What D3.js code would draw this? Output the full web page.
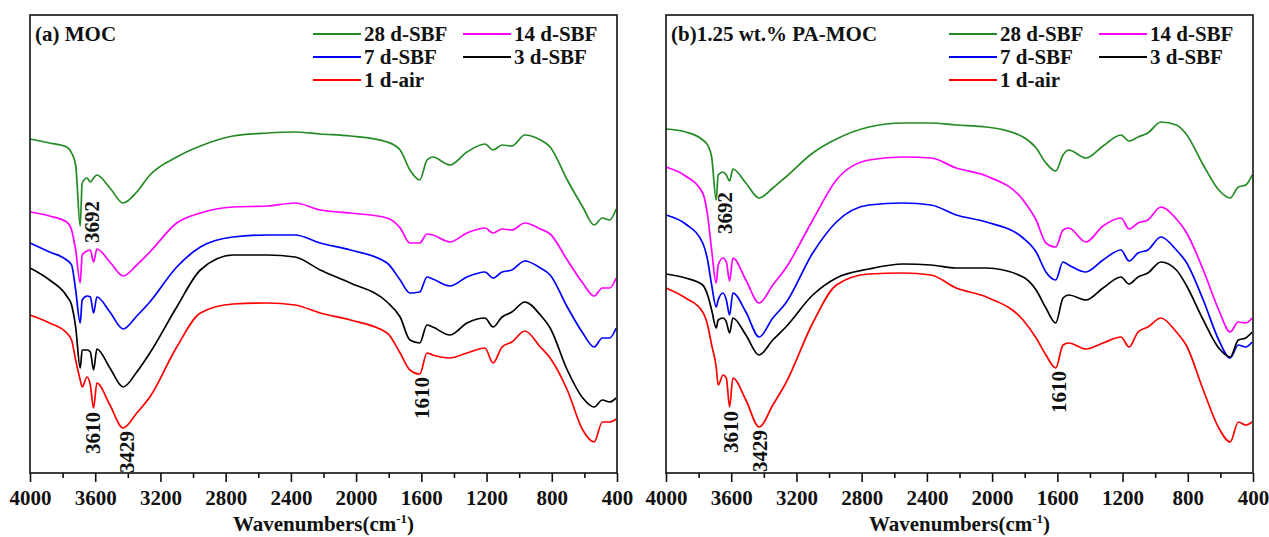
<!DOCTYPE html>
<html>
<head>
<meta charset="utf-8">
<script src="https://cdn.jsdelivr.net/npm/d3@7"></script>
<style>
  body{margin:0;background:#fff;}
  svg text{font-family:"Liberation Serif","Times New Roman",serif;font-weight:bold;fill:#111;}
</style>
</head>
<body>
<div id="chart"></div>
<script>
// wavenumber grid (cm-1) shared by all the traces
const wavenumbers = [4000, 3880, 3775, 3745, 3720, 3692, 3680, 3650, 3630, 3610, 3590, 3510, 3429, 3345, 3265, 3100, 2955, 2755, 2545, 2375, 2220, 2035, 1810, 1730, 1670, 1610, 1565, 1530, 1425, 1320, 1210, 1160, 1105, 1045, 965, 870, 810, 705, 610, 540, 490, 445, 405]

const seriesNames = ['28 d-SBF', '14 d-SBF', '7 d-SBF', '3 d-SBF', '1 d-air']
const seriesColors = ['#238b23', '#ff00ff', '#0000ff', '#000000', '#ff0000']
const panelTitles = ['(a) MOC', '(b)1.25 wt.% PA-MOC']

// (a) MOC, transmittance in a.u. (stacked offsets as drawn)
const moc28 = [33.4, 33.0, 32.6, 32.0, 30.8, 24.7, 29.0, 29.5, 29.1, 29.5, 29.8, 28.5, 27.0, 28.1, 29.8, 31.6, 32.7, 33.7, 34.0, 34.1, 33.9, 33.7, 33.1, 32.3, 30.3, 29.3, 31.3, 31.6, 30.8, 32.1, 32.9, 32.3, 32.8, 32.7, 33.8, 33.3, 32.6, 29.3, 26.6, 24.8, 25.5, 25.3, 26.4]
const moc14 = [26.1, 25.7, 25.1, 24.3, 22.3, 19.0, 21.8, 22.2, 22.3, 21.1, 22.4, 21.1, 19.7, 20.8, 22.1, 25.0, 26.0, 26.6, 26.7, 27.0, 26.3, 26.0, 25.5, 24.5, 23.0, 23.0, 23.9, 23.8, 23.1, 24.0, 24.5, 24.0, 24.4, 24.3, 25.0, 24.4, 23.9, 21.3, 19.0, 17.7, 18.5, 18.5, 19.5]
const moc7 = [23.0, 22.1, 21.3, 20.8, 18.3, 15.0, 17.3, 17.7, 17.6, 16.0, 17.6, 16.1, 14.4, 15.7, 17.1, 20.6, 22.6, 23.6, 23.8, 23.8, 23.0, 22.3, 21.0, 19.3, 18.0, 18.1, 19.6, 19.4, 18.7, 19.6, 20.1, 19.5, 20.1, 20.3, 21.2, 20.5, 19.8, 16.6, 14.0, 12.6, 13.5, 13.5, 14.5]
const moc3 = [20.5, 19.3, 17.7, 16.8, 14.6, 10.5, 12.3, 12.3, 12.1, 10.3, 12.4, 10.5, 8.6, 10.1, 12.0, 16.6, 20.3, 21.8, 21.8, 21.6, 20.3, 19.0, 17.1, 15.6, 13.3, 13.0, 14.8, 14.6, 13.8, 15.0, 15.5, 14.6, 15.6, 16.1, 17.1, 15.8, 14.5, 10.3, 7.5, 6.6, 7.3, 7.1, 7.5]
const moc1 = [15.8, 15.0, 14.0, 13.3, 11.3, 9.3, 8.6, 9.6, 8.8, 6.5, 9.0, 6.8, 4.5, 6.0, 7.6, 12.6, 16.0, 16.9, 17.0, 16.8, 16.0, 15.3, 14.0, 12.0, 10.3, 9.9, 12.0, 11.8, 11.5, 12.0, 12.5, 11.0, 12.6, 13.1, 14.2, 12.6, 11.5, 8.3, 4.3, 3.1, 5.1, 5.1, 5.4]

// (b) 1.25 wt.% PA-MOC
const pa28 = [34.4, 34.1, 33.3, 32.8, 31.6, 27.3, 29.8, 30.1, 29.8, 29.2, 30.4, 29.0, 27.5, 28.5, 29.6, 32.0, 33.4, 34.6, 35.0, 35.0, 34.8, 34.6, 33.6, 32.5, 31.0, 30.2, 31.8, 32.3, 31.5, 32.7, 33.8, 33.2, 33.6, 34.0, 35.1, 34.8, 33.9, 30.8, 28.3, 27.5, 28.6, 28.8, 29.8]
const pa14 = [30.6, 29.7, 28.0, 25.8, 22.3, 19.0, 20.8, 21.5, 21.1, 19.2, 21.5, 19.3, 17.0, 18.8, 20.5, 25.3, 29.3, 31.3, 31.6, 31.5, 30.5, 29.7, 27.3, 25.3, 23.0, 22.6, 24.3, 24.5, 23.1, 24.7, 25.5, 24.4, 25.0, 25.3, 26.6, 25.4, 24.1, 20.3, 16.3, 14.1, 15.1, 15.0, 15.5]
const pa7 = [25.8, 24.9, 23.0, 21.3, 18.8, 16.6, 17.3, 18.0, 17.3, 15.8, 18.0, 16.1, 13.6, 15.5, 17.0, 22.0, 25.1, 26.8, 27.0, 26.8, 25.8, 25.1, 23.5, 22.1, 20.1, 19.3, 21.1, 20.8, 20.1, 21.3, 22.3, 21.2, 22.0, 22.3, 23.6, 22.3, 21.1, 17.3, 13.3, 11.5, 12.8, 12.6, 13.1]
const pa3 = [19.9, 19.5, 18.8, 17.8, 16.3, 14.5, 15.3, 15.5, 15.1, 14.0, 15.5, 13.8, 11.8, 13.3, 14.6, 17.8, 19.5, 20.4, 20.9, 20.8, 20.5, 20.5, 19.6, 18.3, 16.5, 15.0, 17.5, 17.8, 17.3, 18.5, 19.6, 18.9, 19.6, 20.0, 21.1, 20.3, 18.8, 15.3, 12.5, 11.6, 13.3, 13.5, 14.1]
const pa1 = [18.5, 17.5, 16.1, 14.8, 12.8, 10.6, 8.8, 9.8, 9.5, 6.6, 9.5, 7.3, 4.6, 6.8, 9.0, 15.0, 18.8, 19.9, 20.0, 19.8, 18.5, 17.6, 15.3, 13.5, 11.8, 10.5, 12.8, 13.0, 12.4, 13.0, 13.6, 12.6, 14.1, 14.6, 15.5, 14.1, 12.8, 8.3, 4.5, 3.1, 5.1, 4.8, 5.1]

// peak labels: [text, wavenumber, level in a.u.]
const peaksA = [['3692', 3620, 25.1], ['3610', 3614, 4.0], ['3429', 3405, 2.1], ['1610', 1596, 7.5]]
const peaksB = [['3692', 3638, 26.0], ['3610', 3601, 4.1], ['3429', 3423, 2.2], ['1610', 1590, 8.1]]

document.addEventListener('DOMContentLoaded', function(){

  const w = 1269, h = 537
  const top = 15, bottom = 473, pw = 587
  const lefts = [30, 666]
  const fs = 21

  const svg = d3.select('#chart').append('svg')
                .attr('width', w)
                .attr('height', h)

  const panels = [
    {title: panelTitles[0], series: [moc28, moc14, moc7, moc3, moc1], peaks: peaksA},
    {title: panelTitles[1], series: [pa28, pa14, pa7, pa3, pa1], peaks: peaksB}
  ]

  panels.forEach(function(p, k){
    const left = lefts[k]
    const g = svg.append('g')

    const xScale = d3.scaleLinear().domain([4000, 400]).range([left, left + pw])
    const yScale = d3.scaleLinear().domain([0, 45.8]).range([bottom, top])

    //1. traces
    const line = d3.line()
                   .x((d, i) => xScale(wavenumbers[i]))
                   .y(d => yScale(d))
                   .curve(d3.curveMonotoneX)

    p.series.forEach(function(s, i){
      g.append('path')
       .datum(s)
       .attr('d', line)
       .attr('fill', 'none')
       .attr('stroke', seriesColors[i])
       .attr('stroke-width', 1.7)
       .attr('stroke-linejoin', 'round')
    })

    //2. axes - major ticks with labels, minor ticks without
    const xAxis = d3.axisBottom(xScale)
                    .tickValues(d3.range(4000, 399, -400))
                    .tickSize(9)
                    .tickPadding(8)
                    .tickFormat(d3.format('d'))
    const xMinor = d3.axisBottom(xScale)
                     .tickValues(d3.range(3800, 400, -400))
                     .tickSize(5)
                     .tickFormat('')

    const ax = g.append('g').attr('transform', 'translate(0,' + bottom + ')').call(xAxis)
    g.append('g').attr('transform', 'translate(0,' + bottom + ')').call(xMinor)
    g.selectAll('.domain').remove()
    g.selectAll('.tick line').attr('stroke', '#111').attr('stroke-width', 1.6)
    ax.selectAll('text').attr('font-size', fs).attr('fill', '#111')
      .style('font-family', '"Liberation Serif","Times New Roman",serif').style('font-weight', 'bold')

    // frame
    g.append('rect')
     .attr('x', left).attr('y', top)
     .attr('width', pw).attr('height', bottom - top)
     .attr('fill', 'none')
     .attr('stroke', '#111')
     .attr('stroke-width', 1.6)

    const title = g.append('text')
                   .attr('x', left + pw / 2)
                   .attr('y', 531)
                   .attr('text-anchor', 'middle')
                   .attr('font-size', fs)
    title.append('tspan').text('Wavenumbers(cm')
    title.append('tspan').attr('font-size', 13).attr('dy', -8).text('-1')
    title.append('tspan').attr('dy', 8).text(')')

    //3. panel label and legend
    g.append('text')
     .attr('x', left + 5)
     .attr('y', 41)
     .attr('font-size', fs)
     .text(p.title)

    seriesNames.forEach(function(name, i){
      const col = i < 4 ? i % 2 : 0
      const row = Math.floor(i / 2)
      const lx = left + 283 + col * 150
      const ly = 34 + row * 23
      g.append('line')
       .attr('x1', lx).attr('x2', lx + 48)
       .attr('y1', ly).attr('y2', ly)
       .attr('stroke', seriesColors[i])
       .attr('stroke-width', 1.8)
      g.append('text')
       .attr('x', lx + 51)
       .attr('y', ly + 7)
       .attr('font-size', fs)
       .text(name)
    })

    //4. peak annotations, rotated
    p.peaks.forEach(function(d){
      const px = xScale(d[1]), py = yScale(d[2])
      g.append('text')
       .attr('transform', 'translate(' + px + ',' + py + ') rotate(-90)')
       .attr('text-anchor', 'middle')
       .attr('dy', '0.35em')
       .attr('font-size', fs)
       .text(d[0])
    })
  })
})
</script>
</body>
</html>
